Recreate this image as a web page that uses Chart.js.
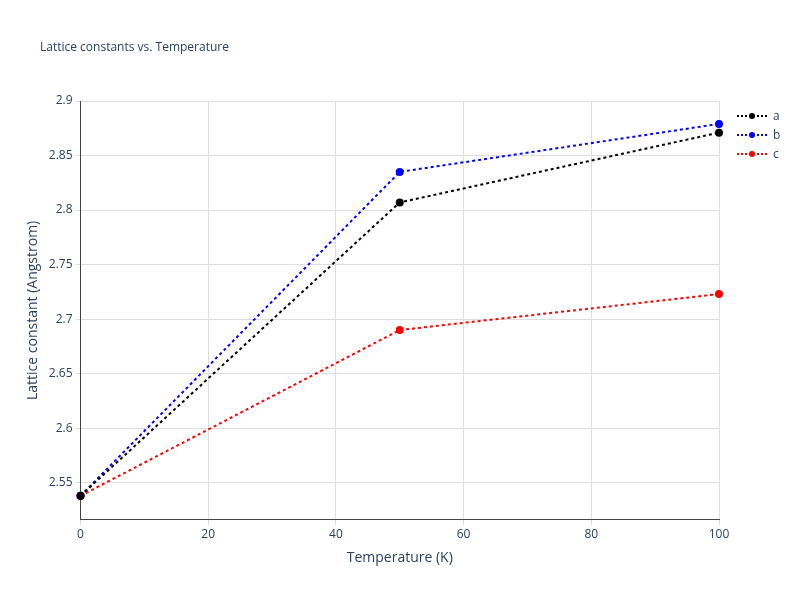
<!DOCTYPE html>
<html>
<head>
<meta charset="utf-8">
<script src="https://cdn.jsdelivr.net/npm/chart.js@4.4.1/dist/chart.umd.min.js"></script>
<style>
  body { margin: 0; background: #fff; }
  #wrap { position: relative; width: 800px; height: 600px; }
  #title { position: absolute; left: 40px; top: 38px; font: 12px "Open Sans", sans-serif; color: #2a3f5f; }
  #legend { position: absolute; left: 737px; top: 106px; font: 12px "Open Sans", sans-serif; color: #2a3f5f; }
  .item { display: flex; align-items: center; height: 19px; }
  .sample { position: relative; width: 30px; height: 10px; margin-right: 6px; }
  .sample .ln { position: absolute; left: 0; right: 0; top: 4px; border-top: 2px dotted; }
  .sample .dot { position: absolute; left: 12px; top: 2px; width: 6px; height: 6px; border-radius: 50%; }
</style>
</head>
<body>
<div id="wrap">
  <div id="title">Lattice constants vs. Temperature</div>
  <canvas id="chart" width="800" height="600"></canvas>
  <div id="legend"></div>
</div>
<script>
// Temperatures (K)
const temps = [0, 50, 100];
// Lattice constants (Angstrom)
const aValues = [2.538, 2.807, 2.871];
const bValues = [2.538, 2.835, 2.879];
const cValues = [2.538, 2.690, 2.723];
const seriesNames = ['a', 'b', 'c'];
const seriesColors = ['#000000', '#0000ff', '#ff0000'];

function toPoints(values) {
    return temps.map((t, i) => ({ x: t, y: values[i] }));
}

const datasets = [aValues, bValues, cValues].map((vals, i) => ({
    label: seriesNames[i],
    data: toPoints(vals),
    borderColor: seriesColors[i],
    backgroundColor: seriesColors[i],
    borderWidth: 2,
    borderDash: [3, 3],
    pointRadius: 3,
    pointHoverRadius: 4,
    tension: 0,
    clip: false
}));

// HTML legend
document.getElementById('legend').innerHTML = seriesNames.map((name, i) => `
    <div class="item">
        <div class="sample">
            <div class="ln" style="border-color:${seriesColors[i]}"></div>
            <div class="dot" style="background:${seriesColors[i]}"></div>
        </div>${name}
    </div>`).join('');

const tickFont = { family: '"Open Sans", sans-serif', size: 12 };

new Chart(document.getElementById('chart').getContext('2d'), {
    type: 'line',
    data: { datasets: datasets },
    options: {
        responsive: false,
        animation: false,
        layout: { padding: { top: 101, right: 81, bottom: 30, left: 21 } },
        plugins: {
            legend: { display: false },
            tooltip: { enabled: false }
        },
        scales: {
            x: {
                type: 'linear',
                min: 0,
                max: 100,
                ticks: { stepSize: 20, color: '#2a3f5f', font: tickFont },
                grid: { color: '#dddddd', drawTicks: true, tickLength: 5 },
                border: { color: '#444444', width: 1 },
                title: { display: true, text: 'Temperature (K)', color: '#2a3f5f', font: { family: '"Open Sans", sans-serif', size: 14 } }
            },
            y: {
                min: 2.516,
                max: 2.9,
                afterBuildTicks: axis => {
                    axis.ticks = [2.55, 2.6, 2.65, 2.7, 2.75, 2.8, 2.85, 2.9].map(v => ({ value: v }));
                },
                ticks: { color: '#2a3f5f', font: tickFont, callback: v => String(Math.round(v * 1000) / 1000) },
                grid: { color: '#dddddd', tickLength: 5 },
                border: { color: '#444444', width: 1 },
                title: { display: true, text: 'Lattice constant (Angstrom)', color: '#2a3f5f', font: { family: '"Open Sans", sans-serif', size: 14 } }
            }
        }
    }
});
</script>
</body>
</html>
